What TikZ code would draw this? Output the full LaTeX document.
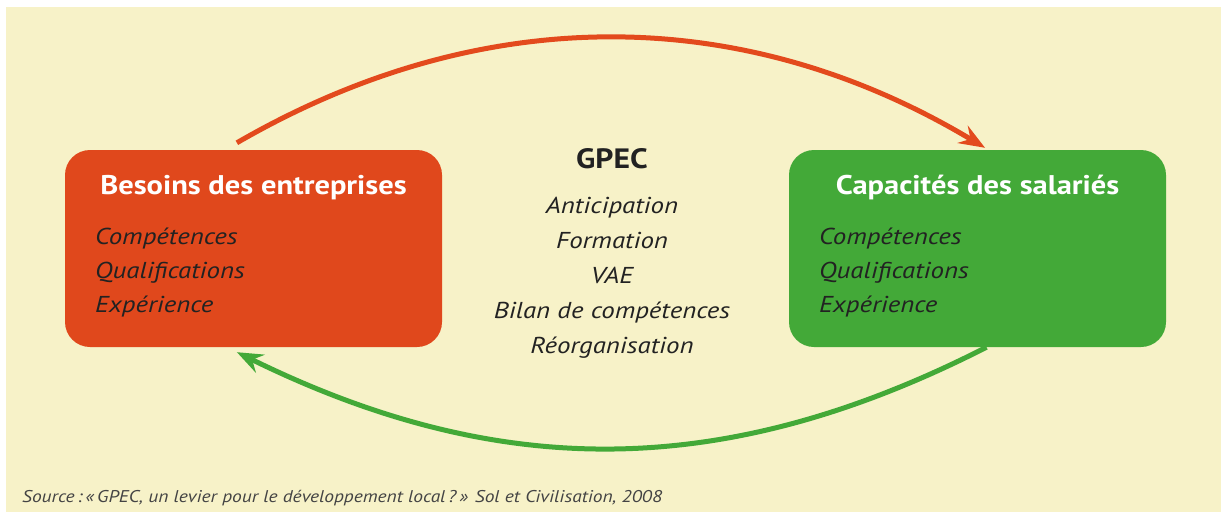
\documentclass[tikz,border=0pt]{standalone}
\usepackage{fontspec}
\setmainfont{PT Sans}
\newfontfamily\titlef[FakeStretch=1.13]{PT Sans}
\newfontfamily\itemf[FakeStretch=1.17]{PT Sans}
\newfontfamily\srcf[FakeStretch=1.145]{PT Sans}
\usetikzlibrary{arrows.meta,calc}
\definecolor{cream}{HTML}{F7F2C8}
\definecolor{boxred}{HTML}{E0481C}
\definecolor{arrred}{HTML}{E34A1D}
\definecolor{boxgreen}{HTML}{43A938}
\definecolor{txt}{HTML}{222222}
\definecolor{srcgray}{HTML}{444444}
\tikzset{
  box/.style={rounded corners=25pt, minimum width=377pt, minimum height=197pt, inner sep=0pt},
  title/.style={anchor=base, text=white, font=\titlef\fontsize{27}{30}\selectfont\bfseries},
  item/.style={anchor=base west, text=txt, font=\itemf\fontsize{23}{26}\selectfont\itshape, inner sep=0pt},
  citem/.style={anchor=base, text=txt, font=\itemf\fontsize{23}{26}\selectfont\itshape, inner sep=0pt},
  arc/.style={line width=5pt, -{Stealth[length=26pt,width=20pt,inset=9pt]}},
}
\begin{document}
\begin{tikzpicture}[x=1pt,y=-1pt]
\useasboundingbox (0,0) rectangle (1221,514);
\fill[cream] (6,7) rectangle (1221,512);
% boxes
\node[box, fill=boxred] (red) at (253.5,248.5) {};
\node[box, fill=boxgreen] (green) at (977.5,248.5) {};
% titles
\node[title, inner sep=0pt] (redT) at (253.5,194) {Besoins des entreprises};
\node[title, inner sep=0pt] (greenT) at (977.5,194) {Capacités des salariés};
% items
\node[item] (r1) at (95,244) {Compétences};
\node[item] (r2) at (95,278) {Qualifications};
\node[item] (r3) at (95,312) {Expérience};
\node[item] (g1) at (819,244) {Compétences};
\node[item] (g2) at (819,278) {Qualifications};
\node[item] (g3) at (819,312) {Expérience};
% center
\node[anchor=base, inner sep=0pt, text=txt, font=\titlef\fontsize{28}{30}\selectfont\bfseries] (gpec) at (612,168) {GPEC};
\node[citem] (c1) at (612,213) {Anticipation};
\node[citem] (c2) at (612,248) {Formation};
\node[citem] (c3) at (612,283) {VAE};
\node[citem] (c4) at (612,318) {Bilan de compétences};
\node[citem] (c5) at (612,353) {Réorganisation};
% source
\node[anchor=base west, inner sep=0pt, text=srcgray, font=\srcf\fontsize{17}{20}\selectfont\itshape] (src) at (22,502) {Source\,:\,«\,GPEC, un levier pour le développement local\,?\,» Sol et Civilisation, 2008};
% connectors
\coordinate (rs) at ($(red.north west)!0.456!(red.north east)+(0,-7)$);
\coordinate (ge) at ($(green.north west)!0.52!(green.north east)+(0,-2)$);
\coordinate (gs) at ($(green.south west)!0.524!(green.south east)$);
\coordinate (re) at ($(red.south west)!0.456!(red.south east)+(0,5)$);
\draw[arc, draw=arrred] (rs) .. controls (480,2) and (742,2) .. (ge);
\draw[arc, draw=boxgreen] (gs) .. controls (724,481) and (499,481) .. (re);
\end{tikzpicture}
\end{document}
